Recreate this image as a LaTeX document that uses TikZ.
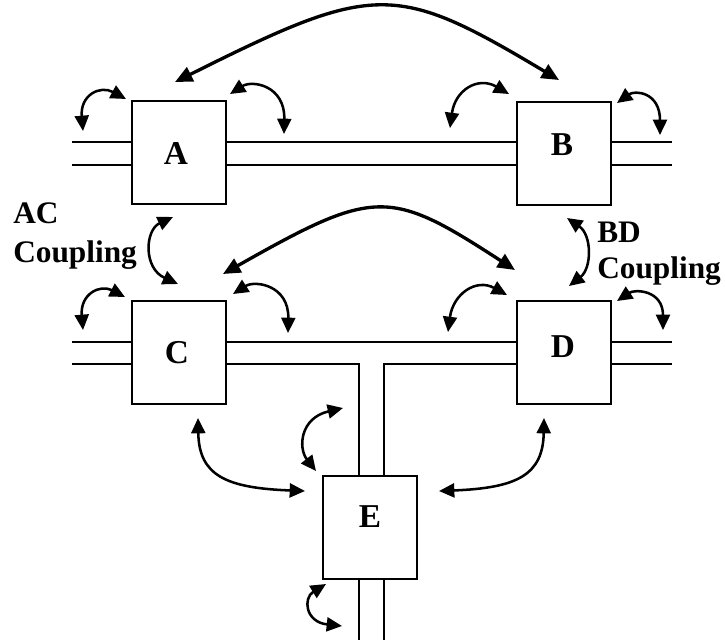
\documentclass[tikz,border=0pt]{standalone}
\usepackage{fontspec}
\setmainfont{Liberation Serif}
\usetikzlibrary{arrows.meta}
\begin{document}
\begin{tikzpicture}[x=0.75pt,y=-0.75pt,
  box/.style={draw,line width=1.5pt,minimum width=70.5pt,minimum height=77.25pt,inner sep=0pt},
  lbl/.style={font=\fontsize{25pt}{30pt}\selectfont\bfseries,inner sep=0pt},
  note/.style={font=\fontsize{23.5pt}{28pt}\selectfont\bfseries,inner sep=0pt,anchor=base west},
  tline/.style={line width=1.4pt},
  bigarc/.style={line width=2.5pt,{Triangle[length=13pt,width=11.5pt]}-{Triangle[length=13pt,width=11.5pt]}},
  hook/.style={line width=1.9pt,{Triangle[length=11.5pt,width=10.5pt]}-{Triangle[length=11.5pt,width=10.5pt]}}]
\useasboundingbox (0,0) rectangle (725,640);

% junction boxes
\node[box] (A) at (179,152.5) {};
\node[box] (B) at (564,153.25) {};
\node[box] (C) at (179,352) {};
\node[box] (D) at (564,352) {};
\node[box] (E) at (370,527.5) {};
\node[lbl] (Alab) at (176,153) {A};
\node[lbl] (Blab) at (562,145) {B};
\node[lbl] (Clab) at (177,353) {C};
\node[lbl] (Dlab) at (563,347) {D};
\node[lbl] (Elab) at (370,517) {E};

% free ends of the transmission lines
\coordinate (aL1) at (72,142);  \coordinate (aL2) at (72,165);
\coordinate (bR1) at (672,142); \coordinate (bR2) at (672,165);
\coordinate (cL1) at (72,342);  \coordinate (cL2) at (72,364);
\coordinate (dR1) at (672,342); \coordinate (dR2) at (672,364);
\coordinate (tL) at (359,364);  \coordinate (tR) at (384,364);
\coordinate (eB1) at (359,640); \coordinate (eB2) at (384,640);

% upper line
\draw[tline] (aL1) -- (aL1 -| A.west);
\draw[tline] (aL2) -- (aL2 -| A.west);
\draw[tline] (A.east |- aL1) -- (B.west |- aL1);
\draw[tline] (A.east |- aL2) -- (B.west |- aL2);
\draw[tline] (bR1) -- (bR1 -| B.east);
\draw[tline] (bR2) -- (bR2 -| B.east);

% lower line with the T branch to E
\draw[tline] (cL1) -- (cL1 -| C.west);
\draw[tline] (cL2) -- (cL2 -| C.west);
\draw[tline] (C.east |- cL1) -- (D.west |- cL1);
\draw[tline] (C.east |- cL2) -- (tL) -- (tL |- E.north);
\draw[tline] (D.west |- cL2) -- (tR) -- (tR |- E.north);
\draw[tline] (dR1) -- (dR1 -| D.east);
\draw[tline] (dR2) -- (dR2 -| D.east);
\draw[tline] (tL |- E.south) -- (eB1);
\draw[tline] (tR |- E.south) -- (eB2);

% long-range couplings
\draw[bigarc] (175,82) .. controls (375,-18) and (395,-18) .. (559,80);
\draw[bigarc] (223,274) .. controls (375,188) and (389,188) .. (515,270);

% local couplings at the box corners
\draw[hook] (83,131) .. controls (80,95) and (100,85) .. (126,99);
\draw[hook] (230,94) .. controls (252,80) and (285,85) .. (284,134);
\draw[hook] (450,128) .. controls (455,90) and (478,76) .. (509,94);
\draw[hook] (617,103) .. controls (635,90) and (660,92) .. (660,135);
\draw[hook] (83,330) .. controls (80,294) and (100,284) .. (125,297);
\draw[hook] (233,294) .. controls (255,280) and (289,285) .. (288,333);
\draw[hook] (448,332) .. controls (453,294) and (476,278) .. (507,295);
\draw[hook] (617,301) .. controls (635,289) and (663,290) .. (663,330);

% AC and BD couplings
\draw[hook] (173,217) .. controls (145,230) and (143,268) .. (178,284);
\draw[hook] (567,218) .. controls (592,235) and (592,268) .. (569,286);

% couplings around E
\draw[hook] (198,418) .. controls (199,475) and (225,488) .. (305,491);
\draw[hook] (544,418) .. controls (543,475) and (517,488) .. (439,491);
\draw[hook] (343,408) .. controls (300,418) and (298,448) .. (316,471);
\draw[hook] (326,584) .. controls (303,598) and (305,622) .. (342,626);

% captions
\node[note] (ac1) at (13,223) {AC};
\node[note] (ac2) at (13,262) {Coupling};
\node[note] (bd1) at (597,242) {BD};
\node[note] (bd2) at (597,278) {Coupling};
\end{tikzpicture}
\end{document}
